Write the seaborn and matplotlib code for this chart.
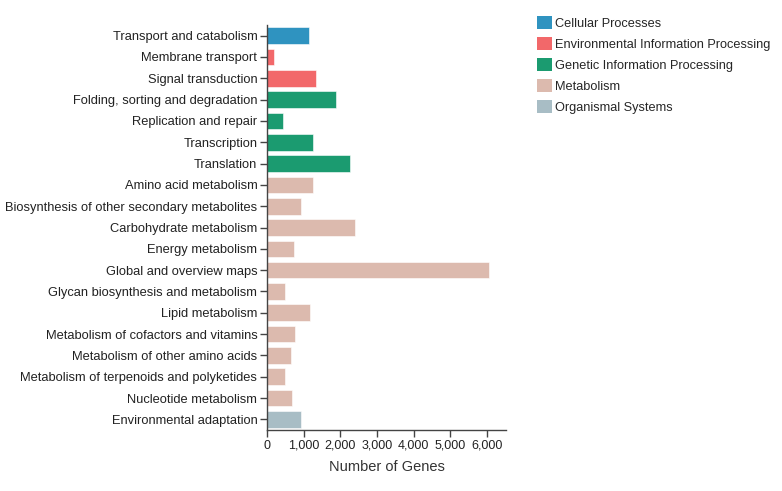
import matplotlib
matplotlib.use('Agg')
import matplotlib.pyplot as plt
import matplotlib.ticker as mticker
from matplotlib.patches import Patch
import pandas as pd
import seaborn as sns

pathways = ['Transport and catabolism', 'Membrane transport', 'Signal transduction',
            'Folding, sorting and degradation', 'Replication and repair', 'Transcription',
            'Translation', 'Amino acid metabolism', 'Biosynthesis of other secondary metabolites',
            'Carbohydrate metabolism', 'Energy metabolism', 'Global and overview maps',
            'Glycan biosynthesis and metabolism', 'Lipid metabolism',
            'Metabolism of cofactors and vitamins', 'Metabolism of other amino acids',
            'Metabolism of terpenoids and polyketides', 'Nucleotide metabolism',
            'Environmental adaptation']
genes = [1140, 190, 1335, 1870, 430, 1255, 2255, 1265, 940,
         2410, 735, 6070, 490, 1165, 765, 665, 480, 690, 940]
classes = ['Cellular Processes', 'Environmental Information Processing',
           'Environmental Information Processing', 'Genetic Information Processing',
           'Genetic Information Processing', 'Genetic Information Processing',
           'Genetic Information Processing', 'Metabolism', 'Metabolism', 'Metabolism',
           'Metabolism', 'Metabolism', 'Metabolism', 'Metabolism', 'Metabolism',
           'Metabolism', 'Metabolism', 'Metabolism', 'Organismal Systems']
class_names = ['Cellular Processes', 'Environmental Information Processing',
               'Genetic Information Processing', 'Metabolism', 'Organismal Systems']
class_colors = ['#2f93c0', '#f2686a', '#1b9b70', '#dcbaae', '#a8bdc5']

df = pd.DataFrame({'pathway': pathways, 'genes': genes, 'class': classes})
palette = dict(zip(class_names, class_colors))

sns.set_style('white')
plt.rcParams['font.family'] = ['Liberation Sans', 'DejaVu Sans']

fig = plt.figure(figsize=(7.82, 4.91), dpi=100)
ax = fig.add_axes([0.3414, 0.1242, 0.3056, 0.8249])

sns.barplot(data=df, x='genes', y='pathway', hue='class', palette=palette,
            dodge=False, width=0.78, order=pathways, hue_order=class_names,
            legend=False, ax=ax, saturation=1)
for bar in ax.patches:
    bar.set_edgecolor('white')
    bar.set_linewidth(0.4)

ax.set_xlim(0, 6520)
ax.set_ylim(len(pathways) - 0.5, -0.5)
ax.xaxis.set_major_locator(mticker.MultipleLocator(1000))
ax.xaxis.set_major_formatter(mticker.FuncFormatter(lambda v, p: f'{int(v):,}'))
ax.set_xlabel('Number of Genes', fontsize=10.5, color='#333333', labelpad=6)
ax.set_ylabel('')

for side in ['top', 'right']:
    ax.spines[side].set_visible(False)
for side in ['left', 'bottom']:
    ax.spines[side].set_color('#444444')
    ax.spines[side].set_linewidth(1)
ax.tick_params(axis='both', which='major', length=5, width=1, color='#444444',
               labelsize=9, labelcolor='#222222', left=True, bottom=True, pad=2)
ax.tick_params(axis='y', labelsize=9.25)

handles = [Patch(facecolor=c, edgecolor='none', label=n) for n, c in zip(class_names, class_colors)]
fig.legend(handles=handles, loc='upper left', bbox_to_anchor=(0.680, 0.978),
           frameon=False, fontsize=9.2, handlelength=1.15, handleheight=1.15,
           handletextpad=0.25, labelspacing=0.58, borderaxespad=0)

fig.savefig('out.png', dpi=100)
